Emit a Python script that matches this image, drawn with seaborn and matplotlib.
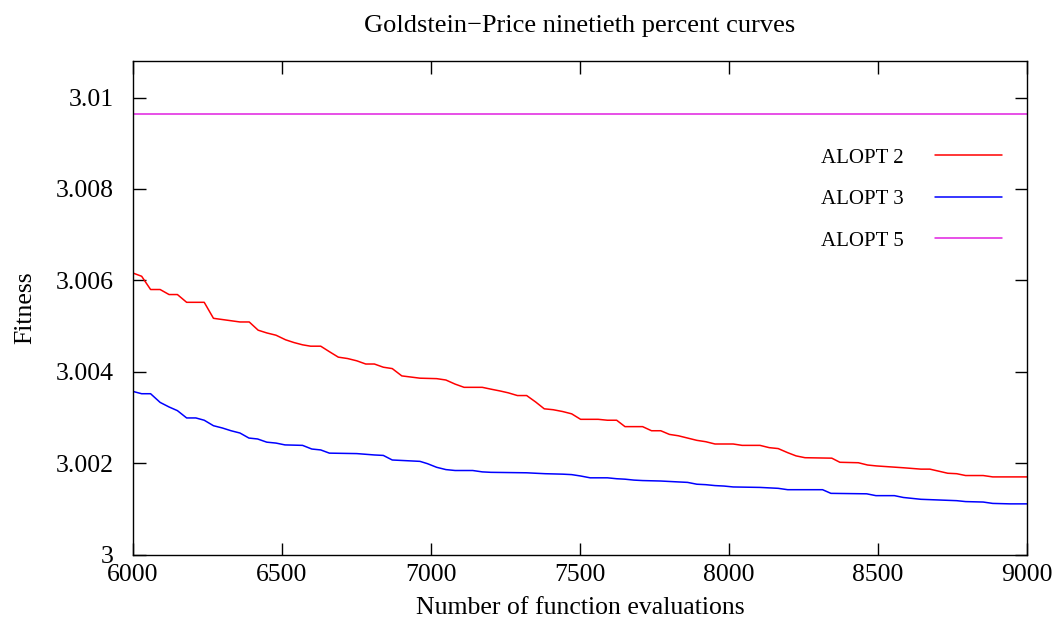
import matplotlib
matplotlib.use("Agg")
import matplotlib.pyplot as plt
import seaborn as sns
import pandas as pd

# ---- data ----
alopt2_x = [6000, 6029, 6059, 6091, 6121, 6149, 6180, 6239, 6270, 6359, 6390, 6420, 6449,
            6480, 6512, 6540, 6569, 6596, 6630, 6659, 6689, 6720, 6751, 6781, 6810, 6840,
            6870, 6902, 6963, 7019, 7050, 7081, 7111, 7172, 7201, 7232, 7259, 7290, 7321,
            7351, 7380, 7410, 7442, 7472, 7502, 7561, 7592, 7623, 7651, 7710, 7740, 7771,
            7800, 7830, 7861, 7892, 7922, 7953, 7983, 8014, 8044, 8104, 8135, 8165, 8197,
            8225, 8255, 8345, 8372, 8434, 8465, 8495, 8585, 8644, 8674, 8734, 8764, 8794,
            8853, 8885, 9000]
alopt2_y = [3.00616, 3.00609, 3.00580, 3.00580, 3.00569, 3.00569, 3.00552, 3.00552, 3.00517,
            3.00509, 3.00509, 3.00491, 3.00485, 3.00480, 3.00470, 3.00464, 3.00459, 3.00456,
            3.00456, 3.00444, 3.00432, 3.00429, 3.00424, 3.00417, 3.00417, 3.00410, 3.00407,
            3.00391, 3.00386, 3.00385, 3.00382, 3.00373, 3.00366, 3.00366, 3.00362, 3.00358,
            3.00354, 3.00348, 3.00348, 3.00334, 3.00319, 3.00317, 3.00313, 3.00308, 3.00296,
            3.00296, 3.00294, 3.00294, 3.00280, 3.00280, 3.00271, 3.00271, 3.00263, 3.00260,
            3.00255, 3.00250, 3.00247, 3.00242, 3.00242, 3.00242, 3.00239, 3.00239, 3.00234,
            3.00232, 3.00223, 3.00216, 3.00212, 3.00211, 3.00202, 3.00201, 3.00196, 3.00194,
            3.00190, 3.00187, 3.00187, 3.00178, 3.00177, 3.00173, 3.00173, 3.00170, 3.00170]

alopt3_x = [6000, 6029, 6059, 6091, 6121, 6149, 6180, 6211, 6239, 6270, 6300, 6329, 6359,
            6389, 6418, 6449, 6480, 6510, 6569, 6600, 6630, 6659, 6751, 6810, 6840, 6870,
            6963, 6988, 7019, 7050, 7081, 7140, 7172, 7201, 7321, 7351, 7383, 7442, 7472,
            7502, 7534, 7592, 7623, 7651, 7681, 7710, 7771, 7800, 7830, 7861, 7892, 7922,
            7953, 7983, 8014, 8104, 8165, 8197, 8314, 8342, 8462, 8493, 8555, 8585, 8644,
            8764, 8794, 8853, 8885, 8943, 9000]
alopt3_y = [3.00357, 3.00352, 3.00352, 3.00333, 3.00323, 3.00315, 3.00299, 3.00299, 3.00294,
            3.00282, 3.00277, 3.00271, 3.00266, 3.00255, 3.00253, 3.00246, 3.00244, 3.00240,
            3.00239, 3.00231, 3.00229, 3.00222, 3.00221, 3.00218, 3.00217, 3.00207, 3.00204,
            3.00199, 3.00191, 3.00186, 3.00184, 3.00184, 3.00181, 3.00180, 3.00179, 3.00178,
            3.00177, 3.00176, 3.00175, 3.00172, 3.00168, 3.00168, 3.00166, 3.00165, 3.00163,
            3.00162, 3.00161, 3.00160, 3.00159, 3.00158, 3.00154, 3.00153, 3.00151, 3.00150,
            3.00148, 3.00147, 3.00145, 3.00142, 3.00142, 3.00134, 3.00133, 3.00129, 3.00129,
            3.00125, 3.00121, 3.00118, 3.00116, 3.00115, 3.00112, 3.00111, 3.00111]

alopt5_x = [6000, 9000]
alopt5_y = [3.00963, 3.00963]

series_names = ["ALOPT 2", "ALOPT 3", "ALOPT 5"]
series_colors = ["#ff0000", "#0000ff", "#e020e0"]

x_ticks = [6000, 6500, 7000, 7500, 8000, 8500, 9000]
y_ticks = [3.0, 3.002, 3.004, 3.006, 3.008, 3.01]
y_tick_labels = ["3", "3.002", "3.004", "3.006", "3.008", "3.01"]

title = "Goldstein\u2212Price ninetieth percent curves"
x_label = "Number of function evaluations"
y_label = "Fitness"

# ---- build long table ----
frames = []
for name, xs, ys in zip(series_names,
                        [alopt2_x, alopt3_x, alopt5_x],
                        [alopt2_y, alopt3_y, alopt5_y]):
    frames.append(pd.DataFrame({"x": xs, "y": ys, "series": name}))
df = pd.concat(frames, ignore_index=True)

sns.set_theme(style="ticks")
plt.rcParams["font.family"] = ["Liberation Serif", "DejaVu Serif"]
plt.rcParams["axes.edgecolor"] = "black"
plt.rcParams["axes.linewidth"] = 1.0
plt.rcParams["text.color"] = "black"
plt.rcParams["axes.labelcolor"] = "black"
plt.rcParams["xtick.color"] = "black"
plt.rcParams["ytick.color"] = "black"

fig = plt.figure(figsize=(10.61, 6.27), dpi=100)
ax = fig.add_axes([133 / 1061, (627 - 554.6) / 627, (1027 - 133) / 1061, (554.6 - 61) / 627])

sns.lineplot(data=df, x="x", y="y", hue="series", hue_order=series_names,
             palette=dict(zip(series_names, series_colors)),
             estimator=None, sort=True, linewidth=1.1, ax=ax)

ax.set_xlim(6000, 9000)
ax.set_ylim(3.0, 3.0108)
ax.set_xticks(x_ticks)
ax.set_xticklabels([str(t) for t in x_ticks])
ax.set_yticks(y_ticks)
ax.set_yticklabels(y_tick_labels)

ax.tick_params(axis="both", direction="in", length=9, width=1.0, colors="black",
               labelsize=18.5, top=True, right=True)
ax.tick_params(axis="x", pad=7)
ax.tick_params(axis="y", pad=14)
for s in ax.spines.values():
    s.set_visible(True)
    s.set_color("black")

ax.set_title(title, fontsize=19, pad=21, color="black")
ax.set_xlabel(x_label, fontsize=18.5, color="black")
ax.set_ylabel(y_label, fontsize=18.5, color="black")
ax.xaxis.set_label_coords(0.5, -0.086)
ax.yaxis.set_label_coords(-0.108, 0.5)

handles, labels = ax.get_legend_handles_labels()
leg = ax.legend(handles, labels, loc="upper right",
                bbox_to_anchor=(1002 / 1061, 1 - 148 / 627), bbox_transform=fig.transFigure,
                frameon=False, markerfirst=False, handlelength=3.2, handletextpad=1.5,
                labelspacing=1.05, fontsize=15, borderpad=0, borderaxespad=0)

fig.savefig("out.png", dpi=100)
